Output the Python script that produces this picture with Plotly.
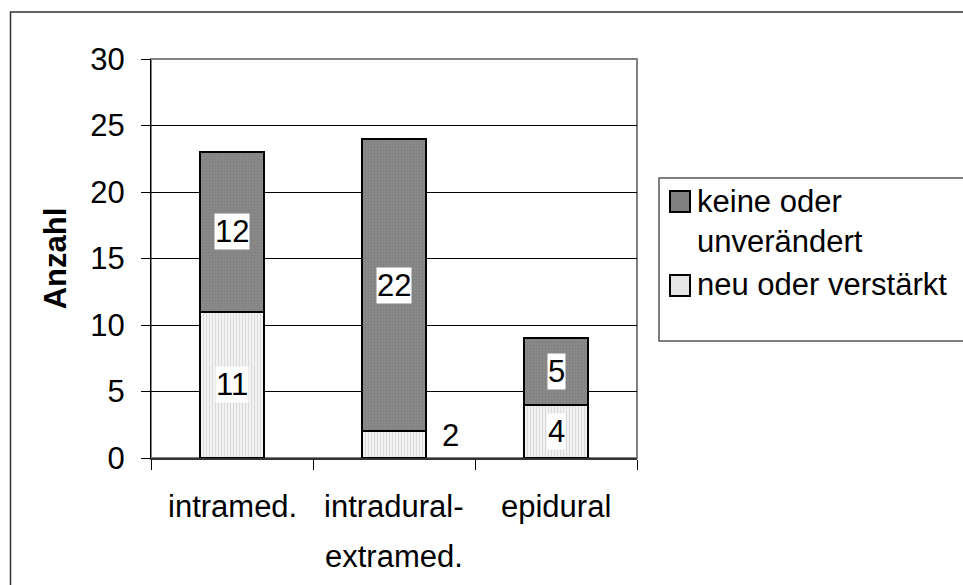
import plotly.graph_objects as go

# ---------------------------- data ----------------------------
categories = ["intramed.", "intradural-<br>extramed.", "epidural"]
series_names = ["neu oder verstärkt", "keine oder<br>unverändert"]
neu_verstaerkt = [11, 2, 4]
keine_unveraendert = [12, 22, 5]

FONT = "Liberation Sans, Arial, sans-serif"
FS = 31
W, H = 963, 585
L, R, T, B = 151, 326, 59, 127
PW, PH = W - L - R, H - T - B


def px_x(x):
    return (x - L) / PW


def px_y(y):
    return (H - B - y) / PH


fig = go.Figure()

fig.add_trace(go.Bar(
    x=categories, y=neu_verstaerkt, name=series_names[0],
    width=0.4,
    marker=dict(color="#e6e6e6", line=dict(color="black", width=2),
                pattern=dict(shape="|", size=3, solidity=0.3,
                             fgcolor="#bcbcbc", bgcolor="#f2f2f2")),
    hoverinfo="skip",
))
fig.add_trace(go.Bar(
    x=categories, y=keine_unveraendert, name=series_names[1],
    width=0.4,
    marker=dict(color="#808080", line=dict(color="black", width=2),
                pattern=dict(shape=".", size=3, solidity=0.4,
                             fgcolor="#747474", bgcolor="#8a8a8a")),
    hoverinfo="skip",
))

txt = dict(size=FS, color="black", family=FONT)

# ---------------------------- value labels ----------------------------
annotations = []
for i, cat in enumerate(categories):
    lo = neu_verstaerkt[i]
    hi = keine_unveraendert[i]
    if lo >= 3:
        annotations.append(dict(x=cat, y=lo / 2, text=str(lo), showarrow=False,
                                bgcolor="white", borderpad=0, font=txt))
    else:
        annotations.append(dict(x=cat, y=lo / 2, text=str(lo), showarrow=False,
                                xshift=56, yshift=9, font=txt))
    annotations.append(dict(x=cat, y=lo + hi / 2, text=str(hi), showarrow=False,
                            bgcolor="white", borderpad=0, font=txt))

# category labels (wider line gap than plotly tick labels allow)
for cat in categories:
    for k, line in enumerate(cat.split("<br>")):
        annotations.append(dict(x=cat, yref="paper", y=px_y(506 + 50 * k),
                                yanchor="middle", text=line, showarrow=False,
                                font=txt))

# ---------------------------- manual legend ----------------------------
legend_items = [
    (series_names[1], "#808080", 191, 221),
    (series_names[0], "#e6e6e6", 275, 284),
]
shapes = [
    # outer chart border
    dict(type="rect", xref="paper", yref="paper",
         x0=px_x(10.5), x1=px_x(1100), y0=px_y(12), y1=px_y(700),
         line=dict(color="#333333", width=1.5), layer="below"),
    # plot area frame
    dict(type="rect", xref="paper", yref="paper", x0=0, x1=1, y0=0, y1=1,
         line=dict(color="#808080", width=2), layer="below"),
    # legend box
    dict(type="rect", xref="paper", yref="paper",
         x0=px_x(659), x1=px_x(1100), y0=px_y(178), y1=px_y(341),
         line=dict(color="#555555", width=1.5)),
]
for name, col, sq_top, text_y in legend_items:
    shapes.append(dict(type="rect", xref="paper", yref="paper",
                       x0=px_x(670), x1=px_x(690), y0=px_y(sq_top), y1=px_y(sq_top + 21),
                       fillcolor=col, line=dict(color="black", width=2)))
    annotations.append(dict(xref="paper", yref="paper", x=px_x(695), y=px_y(text_y),
                            xanchor="left", yanchor="middle", align="left",
                            text=name, showarrow=False, font=txt))

fig.update_layout(
    width=W, height=H,
    barmode="stack",
    showlegend=False,
    paper_bgcolor="white", plot_bgcolor="white",
    margin=dict(l=L, r=R, t=T, b=B, autoexpand=False),
    font=dict(family=FONT, size=FS, color="black"),
    shapes=shapes,
    annotations=annotations,
)
fig.update_xaxes(
    showline=True, linecolor="#333333", linewidth=2,
    ticks="outside", ticklen=10, tickcolor="black", tickwidth=1,
    tickson="boundaries", showgrid=False, showticklabels=False,
    range=[-0.5, 2.5],
)
fig.update_yaxes(
    range=[0, 30], dtick=5,
    showline=True, linecolor="black", linewidth=1,
    ticks="outside", ticklen=9, tickcolor="black",
    showgrid=True, gridcolor="black", gridwidth=1, zeroline=False,
    tickfont=dict(size=FS, family=FONT), ticklabelstandoff=10,
    title=dict(text="<b>Anzahl</b>", font=dict(size=FS, family=FONT), standoff=14),
)

# remove the default page margin so the figure sits at the window origin
fig.write_html("out.html", config={"displayModeBar": False},
               post_script="document.body.style.margin='0';document.body.style.overflow='hidden';")
